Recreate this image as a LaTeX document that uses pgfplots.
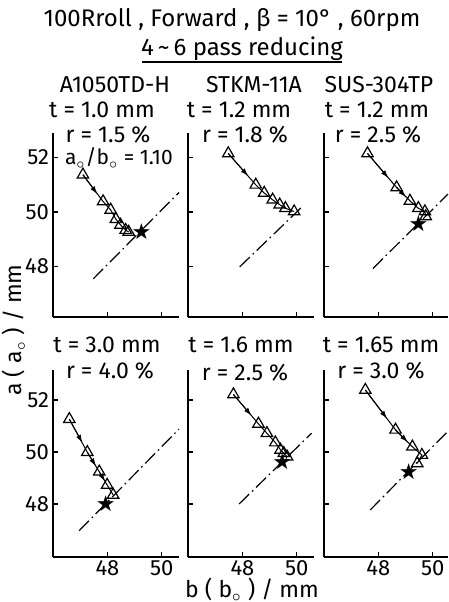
\documentclass[border=0pt]{standalone}
\usepackage{pgfplots}
\pgfplotsset{compat=1.18}
\usepackage{fontspec}
\setmainfont{Fira Sans}
\newfontfamily\starfont{DejaVu Sans}
\usetikzlibrary{arrows.meta}

\pgfplotsset{
  panel/.style={
    scale only axis, anchor=south west, clip=false,
    width=63pt,
    axis lines=left, axis line style={-, line width=0.9pt},
    xmin=46, xmax=50.63,
    xtick={48,50}, ytick={48,50,52},
    tick align=inside, major tick length=2.5pt,
    tick style={black, line width=0.6pt},
    tick label style={font=\fontsize{11}{12}\selectfont},
    xticklabel style={inner sep=1.5pt},
    yticklabel style={xshift=1.5pt},
    /pgf/number format/assume math mode=true,
  },
  toprow/.style={height=92pt, ymin=46.15, ymax=52.9, xticklabels={}},
  botrow/.style={height=93.5pt, ymin=45.96, ymax=53.15},
  noy/.style={yticklabels={}},
  diag/.style={black, line width=0.6pt, dash pattern=on 7pt off 2pt on 0.8pt off 2pt},
  path/.style={black, line width=0.5pt},
  arr/.style={black, line width=0.5pt, -{Latex[length=4pt,width=2.6pt]},
    quiver={u=\thisrow{u}, v=\thisrow{v}}},
  tri/.style={only marks, mark=triangle, mark size=3.3pt,
    mark options={fill=white, line width=0.6pt, black}},
  best/.style={only marks, mark=text,
    text mark={\fontsize{11}{11}\selectfont\starfont ★}},
}

\begin{document}
\begin{tikzpicture}[x=0.5pt, y=-0.5pt]
\path[use as bounding box] (0,0) rectangle (449,602);

% headings
\node[font=\fontsize{12}{14}\selectfont] at (232,20) {100Rroll , Forward , β = 10° , 60rpm};
\node[font=\fontsize{12}{14}\selectfont] at (242,49) {4\,\textasciitilde\,6 pass reducing};
\draw[line width=0.6pt] (142,62) -- (342,62);

\begin{scope}[every node/.style={font=\fontsize{11.5}{13}\selectfont}]
\node at (115,85) {A1050TD-H};
\node at (254,85) {STKM-11A};
\node at (379,85) {SUS-304TP};
\node at (102,110) {t = 1.0 mm};
\node at (239,110) {t = 1.2 mm};
\node at (377,110) {t = 1.2 mm};
\node at (108,135) {r = 1.5 \%};
\node at (245,135) {r = 1.8 \%};
\node at (378,135) {r = 2.5 \%};
\node at (107,345) {t = 3.0 mm};
\node at (241,345) {t = 1.6 mm};
\node at (381,345) {t = 1.65 mm};
\node at (110,371) {r = 4.0 \%};
\node at (245,373) {r = 2.5 \%};
\node at (381,371) {r = 3.0 \%};
\node[rotate=90] at (14,330) {a ( a$_{\circ}$ ) / mm};
\node[inner sep=0pt] at (252,590) {b ( b$_{\circ}$ ) / mm};
\end{scope}
\node[anchor=west, font=\fontsize{10.5}{12}\selectfont] at (58,158) {a$_{\circ}$/b$_{\circ}$ = 1.10};

% top left
\begin{axis}[panel, toprow, at={(26.5pt,-158.5pt)}]
\addplot[diag] coordinates {(47.48,47.55) (50.63,50.72)};
\addplot[path] coordinates {(47.10,51.37) (47.84,50.39) (48.12,50.08) (48.31,49.74) (48.48,49.53) (48.67,49.34) (48.78,49.27)};
\addplot[arr] table[row sep=\\] {x y u v \\ 47.10 51.37 0.53 -0.71 \\};
\addplot[tri] coordinates {(47.10,51.37) (47.84,50.39) (48.12,50.08) (48.31,49.74) (48.48,49.53) (48.67,49.34) (48.78,49.27)};
\addplot[best] coordinates {(49.25,49.28)};
\end{axis}

% top middle
\begin{axis}[panel, toprow, noy, at={(94pt,-158.5pt)}]
\addplot[diag] coordinates {(47.90,47.99) (50.20,50.20)};
\addplot[path] coordinates {(47.48,52.15) (48.49,51.00) (48.80,50.70) (49.11,50.45) (49.37,50.27) (49.58,50.14) (49.90,50.02)};
\addplot[arr] table[row sep=\\] {x y u v \\ 47.48 52.15 0.73 -0.83 \\};
\addplot[tri] coordinates {(47.48,52.15) (48.49,51.00) (48.80,50.70) (49.11,50.45) (49.37,50.27) (49.58,50.14) (49.90,50.02)};
\end{axis}

% top right
\begin{axis}[panel, toprow, noy, width=62pt, xmax=50.56, at={(162pt,-158.5pt)}]
\addplot[diag] coordinates {(47.80,47.93) (50.56,50.66)};
\addplot[path] coordinates {(47.60,52.15) (48.67,50.90) (49.16,50.41) (49.47,50.14) (49.71,50.02) (49.74,49.84)};
\addplot[arr] table[row sep=\\] {x y u v \\ 47.60 52.15 0.77 -0.90 \\ 48.67 50.90 0.35 -0.35 \\};
\addplot[tri] coordinates {(47.60,52.15) (48.67,50.90) (49.16,50.41) (49.47,50.14) (49.71,50.02) (49.74,49.84)};
\addplot[best] coordinates {(49.47,49.56)};
\end{axis}

% bottom left
\begin{axis}[panel, botrow, at={(26.5pt,-278.5pt)}]
\addplot[diag] coordinates {(46.96,46.97) (50.63,50.88)};
\addplot[path] coordinates {(46.60,51.26) (47.26,49.99) (47.70,49.24) (47.99,48.73) (48.21,48.35)};
\addplot[arr] table[row sep=\\] {x y u v \\ 46.60 51.26 0.48 -0.91 \\ 47.26 49.99 0.32 -0.54 \\ 47.70 49.24 0.21 -0.37 \\};
\addplot[tri] coordinates {(46.60,51.26) (47.26,49.99) (47.70,49.24) (47.99,48.73) (48.21,48.35)};
\addplot[best] coordinates {(47.94,48.03)};
\end{axis}

% bottom middle
\begin{axis}[panel, botrow, noy, at={(94pt,-278.5pt)}]
\addplot[diag] coordinates {(47.88,48.00) (50.54,50.72)};
\addplot[path] coordinates {(47.67,52.21) (48.59,51.08) (48.90,50.72) (49.21,50.36) (49.40,50.08) (49.52,49.95) (49.64,49.82)};
\addplot[arr] table[row sep=\\] {x y u v \\ 47.67 52.21 0.66 -0.81 \\};
\addplot[tri] coordinates {(47.67,52.21) (48.59,51.08) (48.90,50.72) (49.21,50.36) (49.40,50.08) (49.52,49.95) (49.64,49.82)};
\addplot[best] coordinates {(49.46,49.62)};
\end{axis}

% bottom right
\begin{axis}[panel, botrow, noy, width=62pt, xmax=50.56, at={(162pt,-278.5pt)}]
\addplot[diag] coordinates {(47.70,47.77) (50.56,50.80)};
\addplot[path] coordinates {(47.52,52.38) (48.63,50.85) (49.25,50.20) (49.60,49.88) (49.43,49.56)};
\addplot[arr] table[row sep=\\] {x y u v \\ 47.52 52.38 0.80 -1.10 \\ 48.63 50.85 0.45 -0.47 \\};
\addplot[tri] coordinates {(47.52,52.38) (48.63,50.85) (49.25,50.20) (49.60,49.88) (49.43,49.56)};
\addplot[best] coordinates {(49.12,49.24)};
\end{axis}
\end{tikzpicture}
\end{document}
